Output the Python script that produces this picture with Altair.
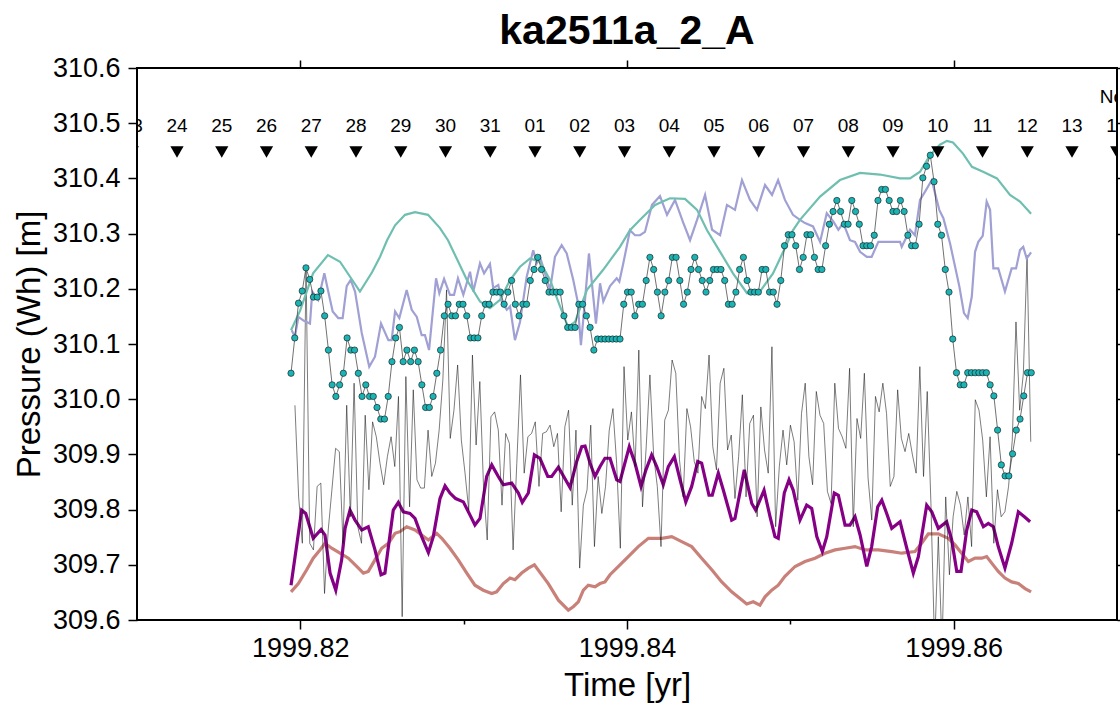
import altair as alt
import pandas as pd
import numpy as np

FONT = "Liberation Sans"
X_DOMAIN = [1999.81, 1999.87]
Y_DOMAIN = [309.6, 310.6]
X_MAJOR = [1999.82, 1999.84, 1999.86]
X_MINOR = [1999.83, 1999.85]
Y_TICKS = [309.6, 309.7, 309.8, 309.9, 310.0, 310.1, 310.2, 310.3, 310.4, 310.5, 310.6]

# ---- cyan observation dots (2-hourly) ----
cyan_start, cyan_end = 1999.81943, 1999.86475
cyan_vals = [
    310.047, 310.111, 310.174, 310.196, 310.238, 310.217, 310.185, 310.185, 310.196, 310.151,
    310.089, 310.026, 310.005, 310.026, 310.047, 310.111, 310.089, 310.089, 310.047, 310.005,
    310.026, 310.005, 310.005, 309.985, 309.964, 309.964, 310.005, 310.068, 310.111, 310.130,
    310.068, 310.089, 310.068, 310.089, 310.068, 310.026, 309.985, 309.985, 310.005, 310.047,
    310.089, 310.151, 310.172, 310.151, 310.151, 310.172, 310.172, 310.151, 310.111, 310.111,
    310.111, 310.151, 310.172, 310.172, 310.194, 310.194, 310.194, 310.172, 310.194, 310.215,
    310.172, 310.151, 310.172, 310.172, 310.215,
    310.235, 310.257, 310.235, 310.215, 310.194, 310.194, 310.194, 310.194, 310.151, 310.130,
    310.130, 310.130, 310.172, 310.172, 310.151, 310.130, 310.089, 310.109, 310.109, 310.109,
    310.109, 310.109, 310.109, 310.109, 310.172, 310.194, 310.194, 310.151, 310.172, 310.172,
    310.215, 310.257, 310.235, 310.194, 310.151, 310.194, 310.215, 310.257, 310.257, 310.215,
    310.172, 310.194, 310.235, 310.257, 310.235, 310.215, 310.194, 310.215, 310.235, 310.235,
    310.235, 310.215, 310.172, 310.172, 310.194, 310.235, 310.257, 310.215, 310.194, 310.194,
    310.194, 310.235, 310.235, 310.194, 310.194, 310.172, 310.215, 310.278, 310.298, 310.298,
    310.278, 310.235, 310.257, 310.298, 310.298, 310.257, 310.235, 310.235, 310.278, 310.317,
    310.340, 310.360, 310.340, 310.317, 310.317, 310.360, 310.340, 310.317, 310.278, 310.278,
    310.278, 310.297, 310.360, 310.380, 310.380, 310.360, 310.340, 310.340, 310.360, 310.340,
    310.297, 310.278, 310.278, 310.317, 310.401, 310.422, 310.442, 310.394, 310.317, 310.297,
    310.235, 310.194, 310.109, 310.048, 310.026, 310.026, 310.048, 310.048, 310.048, 310.048,
    310.048, 310.048, 310.026, 310.006, 309.944, 309.881, 309.861, 309.861, 309.901, 309.944,
    309.964, 310.006, 310.048, 310.048,
]

# ---- thin raw record ----
thin_start, thin_end = 1999.81967, 1999.86472
thin_vals = [
    309.989, 309.823, 309.739, 310.240, 309.739, 309.727, 309.842, 309.848, 309.648, 309.763,
    309.836, 309.911, 309.905, 309.739, 309.989, 309.787, 310.029, 309.769, 309.739, 309.971,
    309.836, 309.959, 309.932, 309.884, 309.845, 309.896, 309.932, 309.878, 310.005, 309.606,
    310.041, 309.805, 310.017, 309.854, 309.839, 309.839, 309.944, 309.860, 309.884, 309.944,
    310.035, 310.198, 309.929, 309.980, 310.062, 309.926, 309.866, 309.799, 310.080, 309.917,
    310.032, 309.842, 309.745, 309.968, 309.977, 309.944, 309.808, 309.938, 309.920, 309.727,
    309.884, 310.044, 309.866, 309.932, 309.938,
    309.959, 309.842, 309.938, 309.941, 309.953, 309.914, 309.938, 309.796, 309.950, 309.980,
    309.808, 309.944, 309.694, 309.808, 309.836, 309.953, 309.733, 309.860, 309.793, 309.842,
    309.944, 309.983, 309.884, 309.730, 310.059, 309.926, 309.977, 309.878, 310.089, 309.805,
    309.914, 310.044, 309.899, 309.842, 309.733, 309.962, 309.980, 310.071, 310.047, 309.890,
    309.823, 309.983, 309.950, 309.887, 309.866, 310.005, 309.983, 310.080, 309.914, 309.872,
    310.029, 310.056, 309.908, 309.935, 309.820, 309.896, 310.008, 309.823, 309.956, 309.971,
    309.787, 309.986, 309.908, 309.866, 310.095, 309.769, 309.878, 309.944,
    309.881, 309.953, 309.923, 309.817, 309.974, 310.029, 309.896, 309.845, 310.014, 309.971,
    309.956, 309.833, 309.811, 310.029, 309.947, 309.932, 309.911, 310.056, 309.769, 309.965,
    309.929, 310.047, 309.857, 309.781, 310.005, 309.977, 310.029, 309.974, 309.842, 309.860,
    310.017, 309.929, 309.905, 309.938, 309.899, 309.866, 310.059, 309.860, 310.014, 309.811,
    309.550, 309.751, 309.550, 309.823, 309.682, 309.787, 309.833, 309.808, 309.754, 309.823,
    309.733, 309.999, 309.980, 309.926, 309.823, 309.932, 309.739, 309.836, 309.787, 309.796,
    309.842, 309.926, 310.140, 309.980, 310.047, 310.261, 309.923,
]

# ---- teal smooth curve ----
teal_t = [
    1999.81943, 1999.81998, 1999.82078, 1999.82169, 1999.82243, 1999.82365, 1999.82439, 1999.82488, 1999.82531, 1999.82580,
    1999.82641, 1999.82702, 1999.82782, 1999.82855, 1999.82904, 1999.83020, 1999.83100, 1999.83161, 1999.83223, 1999.83284,
    1999.83345, 1999.83406, 1999.83467, 1999.83529, 1999.83590, 1999.83639, 1999.83682, 1999.83755, 1999.83853, 1999.83957,
    1999.84018, 1999.84080, 1999.84172, 1999.84263, 1999.84355, 1999.84429, 1999.84490, 1999.84570, 1999.84649, 1999.84735,
    1999.84814, 1999.84894, 1999.84980, 1999.85016, 1999.85059, 1999.85182, 1999.85304, 1999.85427, 1999.85549, 1999.85672,
    1999.85733, 1999.85794, 1999.85855, 1999.85916, 1999.85959, 1999.85996, 1999.86057, 1999.86112, 1999.86180, 1999.86265,
    1999.86345, 1999.86406, 1999.86474,
]
teal_v = [
    310.125, 310.160, 310.228, 310.261, 310.249, 310.195, 310.230, 310.258, 310.288, 310.315,
    310.334, 310.339, 310.334, 310.310, 310.288, 310.216, 310.177, 310.165, 310.180, 310.216,
    310.240, 310.255, 310.249, 310.216, 310.168, 310.131, 310.140, 310.198, 310.234, 310.276,
    310.306, 310.325, 310.352, 310.364, 310.363, 310.343, 310.306, 310.267, 310.228, 310.192,
    310.195, 310.228, 310.282, 310.306, 310.325, 310.367, 310.397, 310.410, 310.407, 310.400,
    310.400, 310.412, 310.442, 310.461, 310.468, 310.465, 310.445, 310.421, 310.412, 310.400,
    310.370, 310.358, 310.336,
]

# ---- lavender curve ----
lav_t = [
    1999.81947, 1999.81967, 1999.81988, 1999.82022, 1999.82059, 1999.82073, 1999.82110, 1999.82147, 1999.82171, 1999.82198,
    1999.82232, 1999.82259, 1999.82284, 1999.82308, 1999.82335, 1999.82376, 1999.82422, 1999.82457, 1999.82494, 1999.82539,
    1999.82559, 1999.82580, 1999.82606, 1999.82651, 1999.82682, 1999.82713, 1999.82743, 1999.82763, 1999.82788, 1999.82831,
    1999.82851, 1999.82880, 1999.82916, 1999.82941, 1999.82965, 1999.82998, 1999.83039, 1999.83059, 1999.83100, 1999.83125,
    1999.83161, 1999.83181, 1999.83212, 1999.83233, 1999.83264, 1999.83284, 1999.83314, 1999.83345, 1999.83386, 1999.83426,
    1999.83447, 1999.83467, 1999.83498, 1999.83529, 1999.83559, 1999.83600, 1999.83631, 1999.83671, 1999.83696, 1999.83718,
    1999.83743, 1999.83767, 1999.83810, 1999.83835, 1999.83855, 1999.83896, 1999.83937, 1999.83953, 1999.83977, 1999.83998,
    1999.84018, 1999.84049, 1999.84080, 1999.84110, 1999.84153, 1999.84202, 1999.84245, 1999.84294, 1999.84343, 1999.84386,
    1999.84429, 1999.84478, 1999.84521, 1999.84570, 1999.84612, 1999.84661, 1999.84704, 1999.84753, 1999.84796, 1999.84845,
    1999.84888, 1999.84925, 1999.84967, 1999.85016, 1999.85059, 1999.85090, 1999.85139, 1999.85182, 1999.85223, 1999.85263,
    1999.85294, 1999.85324, 1999.85365, 1999.85396, 1999.85427, 1999.85468, 1999.85498, 1999.85539, 1999.85672, 1999.85682,
    1999.85733, 1999.85763, 1999.85794, 1999.85825, 1999.85866, 1999.85886, 1999.85912, 1999.85937, 1999.85978, 1999.86035,
    1999.86063, 1999.86086, 1999.86111, 1999.86131, 1999.86151, 1999.86178, 1999.86202, 1999.86223, 1999.86243, 1999.86273,
    1999.86314, 1999.86355, 1999.86382, 1999.86406, 1999.86426, 1999.86447, 1999.86474,
]
lav_v = [
    310.125, 310.113, 310.149, 310.142, 310.137, 310.195, 310.180, 310.228, 310.195, 310.159,
    310.147, 310.147, 310.205, 310.216, 310.195, 310.120, 310.059, 310.077, 310.137, 310.107,
    310.107, 310.159, 310.147, 310.198, 310.162, 310.149, 310.116, 310.116, 310.089, 310.219,
    310.192, 310.218, 310.189, 310.189, 310.219, 310.189, 310.231, 310.195, 310.246, 310.228,
    310.245, 310.201, 310.207, 310.177, 310.162, 310.168, 310.107, 310.140, 310.222, 310.270,
    310.246, 310.258, 310.228, 310.198, 310.258, 310.279, 310.264, 310.216, 310.180, 310.098,
    310.180, 310.264, 310.137, 310.210, 310.177, 310.205, 310.219, 310.213, 310.246, 310.276,
    310.306, 310.297, 310.297, 310.303, 310.352, 310.368, 310.334, 310.361, 310.321, 310.288,
    310.325, 310.370, 310.307, 310.297, 310.352, 310.343, 310.397, 310.361, 310.343, 310.388,
    310.370, 310.397, 310.361, 310.334, 310.325, 310.319, 310.313, 310.285, 310.337, 310.322,
    310.307, 310.319, 310.288, 310.285, 310.267, 310.258, 310.258, 310.285, 310.285, 310.276,
    310.307, 310.297, 310.361, 310.376, 310.397, 310.373, 310.343, 310.328, 310.282, 310.204,
    310.156, 310.147, 310.186, 310.267, 310.285, 310.296, 310.358, 310.343, 310.237, 310.237,
    310.195, 310.237, 310.237, 310.270, 310.276, 310.255, 310.266,
]

# ---- purple tidal curve ----
purple_t = [
    1999.81943, 1999.82008, 1999.82033, 1999.82079, 1999.82127, 1999.82151, 1999.82182, 1999.82217, 1999.82253, 1999.82274,
    1999.82304, 1999.82335, 1999.82376, 1999.82416, 1999.82457, 1999.82494, 1999.82518, 1999.82569, 1999.82600, 1999.82630,
    1999.82671, 1999.82702, 1999.82743, 1999.82784, 1999.82814, 1999.82855, 1999.82886, 1999.82916, 1999.82951, 1999.82998,
    1999.83039, 1999.83069, 1999.83100, 1999.83141, 1999.83172, 1999.83212, 1999.83243, 1999.83294, 1999.83335, 1999.83359,
    1999.83396, 1999.83433, 1999.83467, 1999.83515, 1999.83539, 1999.83580, 1999.83651, 1999.83692, 1999.83723, 1999.83743,
    1999.83774, 1999.83804, 1999.83835, 1999.83865, 1999.83896, 1999.83937, 1999.83957, 1999.84014, 1999.84049, 1999.84086,
    1999.84116, 1999.84151, 1999.84182, 1999.84222, 1999.84253, 1999.84290, 1999.84325, 1999.84360, 1999.84396, 1999.84433,
    1999.84457, 1999.84502, 1999.84522, 1999.84559, 1999.84590, 1999.84641, 1999.84661, 1999.84718, 1999.84764, 1999.84788,
    1999.84839, 1999.84876, 1999.84906, 1999.84926, 1999.84963, 1999.84992, 1999.85018, 1999.85059, 1999.85100, 1999.85131,
    1999.85162, 1999.85196, 1999.85223, 1999.85269, 1999.85294, 1999.85335, 1999.85365, 1999.85396, 1999.85427, 1999.85468,
    1999.85498, 1999.85535, 1999.85560, 1999.85590, 1999.85621, 1999.85672, 1999.85713, 1999.85753, 1999.85784, 1999.85835,
    1999.85866, 1999.85906, 1999.85957, 1999.85988, 1999.86019, 1999.86045, 1999.86080, 1999.86111, 1999.86141, 1999.86182,
    1999.86212, 1999.86243, 1999.86273, 1999.86314, 1999.86355, 1999.86396, 1999.86433, 1999.86468,
]
purple_v = [
    309.663, 309.799, 309.793, 309.748, 309.764, 309.754, 309.685, 309.654, 309.709, 309.766,
    309.799, 309.781, 309.763, 309.769, 309.727, 309.682, 309.685, 309.799, 309.813, 309.796,
    309.793, 309.784, 309.751, 309.722, 309.751, 309.820, 309.843, 309.830, 309.820, 309.814,
    309.790, 309.772, 309.784, 309.860, 309.881, 309.860, 309.845, 309.848, 309.830, 309.813,
    309.830, 309.899, 309.893, 309.860, 309.860, 309.877, 309.840, 309.887, 309.914, 309.915,
    309.884, 309.860, 309.878, 309.893, 309.893, 309.854, 309.851, 309.914, 309.884, 309.842,
    309.872, 309.899, 309.878, 309.845, 309.878, 309.896, 309.854, 309.814, 309.842, 309.887,
    309.884, 309.826, 309.826, 309.866, 309.835, 309.781, 309.784, 309.872, 309.811, 309.799,
    309.835, 309.787, 309.751, 309.748, 309.830, 309.854, 309.835, 309.781, 309.808, 309.802,
    309.751, 309.724, 309.751, 309.830, 309.826, 309.772, 309.772, 309.787, 309.754, 309.697,
    309.733, 309.805, 309.817, 309.793, 309.766, 309.778, 309.730, 309.685, 309.715, 309.808,
    309.796, 309.766, 309.778, 309.745, 309.688, 309.688, 309.763, 309.799, 309.796, 309.769,
    309.775, 309.769, 309.733, 309.694, 309.739, 309.796, 309.787, 309.778,
]

# ---- pink long-period curve ----
pink_t = [
    1999.81943, 1999.81988, 1999.82039, 1999.82079, 1999.82120, 1999.82151, 1999.82192, 1999.82243, 1999.82294, 1999.82345,
    1999.82386, 1999.82416, 1999.82457, 1999.82498, 1999.82539, 1999.82580, 1999.82610, 1999.82651, 1999.82702, 1999.82743,
    1999.82784, 1999.82835, 1999.82866, 1999.82916, 1999.82967, 1999.83019, 1999.83069, 1999.83120, 1999.83172, 1999.83202,
    1999.83243, 1999.83284, 1999.83314, 1999.83355, 1999.83396, 1999.83433, 1999.83518, 1999.83580, 1999.83641, 1999.83671,
    1999.83702, 1999.83733, 1999.83763, 1999.83804, 1999.83835, 1999.83865, 1999.83896, 1999.83957, 1999.84008, 1999.84069,
    1999.84131, 1999.84172, 1999.84213, 1999.84274, 1999.84335, 1999.84396, 1999.84457, 1999.84519, 1999.84580, 1999.84641,
    1999.84692, 1999.84733, 1999.84773, 1999.84814, 1999.84845, 1999.84886, 1999.84926, 1999.84967, 1999.85029, 1999.85090,
    1999.85151, 1999.85212, 1999.85274, 1999.85335, 1999.85396, 1999.85457, 1999.85539, 1999.85621, 1999.85682, 1999.85763,
    1999.85804, 1999.85845, 1999.85906, 1999.85967, 1999.86008, 1999.86049, 1999.86090, 1999.86131, 1999.86172, 1999.86202,
    1999.86233, 1999.86273, 1999.86314, 1999.86355, 1999.86396, 1999.86437, 1999.86474,
]
pink_v = [
    309.651, 309.666, 309.691, 309.712, 309.727, 309.739, 309.730, 309.721, 309.712, 309.697,
    309.685, 309.688, 309.709, 309.730, 309.739, 309.757, 309.760, 309.769, 309.763, 309.754,
    309.745, 309.757, 309.748, 309.730, 309.709, 309.685, 309.663, 309.654, 309.648, 309.651,
    309.666, 309.676, 309.673, 309.685, 309.694, 309.700, 309.666, 309.636, 309.618, 309.624,
    309.633, 309.654, 309.663, 309.660, 309.666, 309.669, 309.682, 309.700, 309.715, 309.733,
    309.748, 309.748, 309.748, 309.751, 309.742, 309.733, 309.712, 309.691, 309.669, 309.651,
    309.639, 309.629, 309.633, 309.627, 309.642, 309.654, 309.663, 309.679, 309.697, 309.706,
    309.712, 309.721, 309.727, 309.730, 309.733, 309.727, 309.727, 309.724, 309.721, 309.724,
    309.739, 309.756, 309.756, 309.748, 309.736, 309.721, 309.706, 309.712, 309.712, 309.715,
    309.703, 309.688, 309.676, 309.669, 309.666, 309.657, 309.651,
]

# ---- day markers ----
day_labels = ["23", "24", "25", "26", "27", "28", "29", "30", "31",
              "01", "02", "03", "04", "05", "06", "07", "08", "09", "10",
              "11", "12", "13", "14"]
day_first = 1999.80971
day_t = [day_first + k / 365.0 for k in range(len(day_labels))]
DAY_LABEL_Y = 310.495
DAY_MARK_Y = 310.448
MONTH_LABEL = "Nov"
MONTH_Y = 310.547

# ---------------------------------------------------------------
cyan_df = pd.DataFrame({"t": np.linspace(cyan_start, cyan_end, len(cyan_vals)), "v": cyan_vals})
thin_df = pd.DataFrame({"t": np.linspace(thin_start, thin_end, len(thin_vals)), "v": thin_vals})
teal_df = pd.DataFrame({"t": teal_t, "v": teal_v})
lav_df = pd.DataFrame({"t": lav_t, "v": lav_v})
purple_df = pd.DataFrame({"t": purple_t, "v": purple_v})
pink_df = pd.DataFrame({"t": pink_t, "v": pink_v})
day_df = pd.DataFrame({"t": day_t, "lab": day_labels,
                       "ly": [DAY_LABEL_Y] * len(day_t), "my": [DAY_MARK_Y] * len(day_t)})
month_df = pd.DataFrame({"t": [day_t[-1]], "lab": [MONTH_LABEL], "ly": [MONTH_Y]})

xs = alt.Scale(domain=X_DOMAIN, nice=False, zero=False)
ys = alt.Scale(domain=Y_DOMAIN, nice=False, zero=False)

common_axis = dict(grid=False, domain=False, tickColor="black", tickWidth=1.5,
                   labelColor="black", labelFont=FONT, titleFont=FONT, titleColor="black")

ax_bottom = alt.Axis(orient="bottom", values=X_MAJOR, format=".2f", title="Time [yr]",
                     tickSize=9, labelFontSize=27, labelPadding=6, labelFlush=False,
                     titleFontSize=33, titleFontWeight="normal", titlePadding=8, **common_axis)
ax_bottom_minor = alt.Axis(orient="bottom", values=X_MINOR, labels=False, title=None,
                           tickSize=4, **common_axis)
ax_top = alt.Axis(orient="top", values=X_MAJOR, labels=False, title=None, tickSize=8, **common_axis)
ax_left = alt.Axis(orient="left", values=Y_TICKS, format=".1f", title="Pressure (Wh) [m]",
                   tickSize=9, labelFontSize=27, labelPadding=8, labelFlush=False,
                   titleFontSize=33, titleFontWeight="normal", titlePadding=6, **common_axis)
ax_right = alt.Axis(orient="right", values=Y_TICKS, labels=False, title=None, tickSize=8, **common_axis)


def enc(xaxis=None, yaxis=None, yfield="v"):
    return dict(x=alt.X("t:Q", scale=xs, axis=xaxis), y=alt.Y(f"{yfield}:Q", scale=ys, axis=yaxis))


pink = alt.Chart(pink_df).mark_line(color="#c98079", strokeWidth=3.2, clip=True).encode(
    **enc(ax_bottom, ax_left))
purple = alt.Chart(purple_df).mark_line(color="#860086", strokeWidth=3.2, clip=True).encode(
    **enc(ax_bottom_minor, None))
thin = alt.Chart(thin_df).mark_line(color="#111111", strokeWidth=0.55, clip=True).encode(
    **enc(ax_top, ax_right))
lav = alt.Chart(lav_df).mark_line(color="#a0a0d4", strokeWidth=2.2, clip=True).encode(**enc())
teal = alt.Chart(teal_df).mark_line(color="#6fbfb1", strokeWidth=2.2, clip=True).encode(**enc())
cyan_line = alt.Chart(cyan_df).mark_line(color="#333333", strokeWidth=0.7, clip=True).encode(**enc())
cyan_pts = alt.Chart(cyan_df).mark_circle(size=40, color="#1bb3b3", opacity=1, stroke="#111111",
                                          strokeWidth=0.6, clip=True).encode(**enc())
tri = alt.Chart(day_df).mark_point(shape="triangle-down", filled=True, color="black", opacity=1,
                                   size=175, clip=True).encode(**enc(yfield="my"))
day_txt = alt.Chart(day_df).mark_text(fontSize=19, font=FONT, color="black", baseline="middle",
                                      clip=True).encode(text="lab:N", **enc(yfield="ly"))
month_txt = alt.Chart(month_df).mark_text(fontSize=19, font=FONT, color="black", baseline="middle",
                                          clip=True).encode(text="lab:N", **enc(yfield="ly"))

chart = alt.layer(
    pink, purple, thin, lav, teal, cyan_line, cyan_pts, tri, day_txt, month_txt
).resolve_axis(x="independent", y="independent").properties(
    width=980, height=552,
    padding={"left": 137, "top": 68, "right": 3, "bottom": 84},
    autosize=alt.AutoSizeParams(type="none"),
    title=alt.TitleParams("ka2511a_2_A", fontSize=41, fontWeight="bold", font=FONT,
                          color="black", anchor="middle", offset=1),
).configure(font=FONT, background="white").configure_view(stroke="black", strokeWidth=2)

chart.save("out.html", embed_options={"renderer": "svg", "actions": False})
